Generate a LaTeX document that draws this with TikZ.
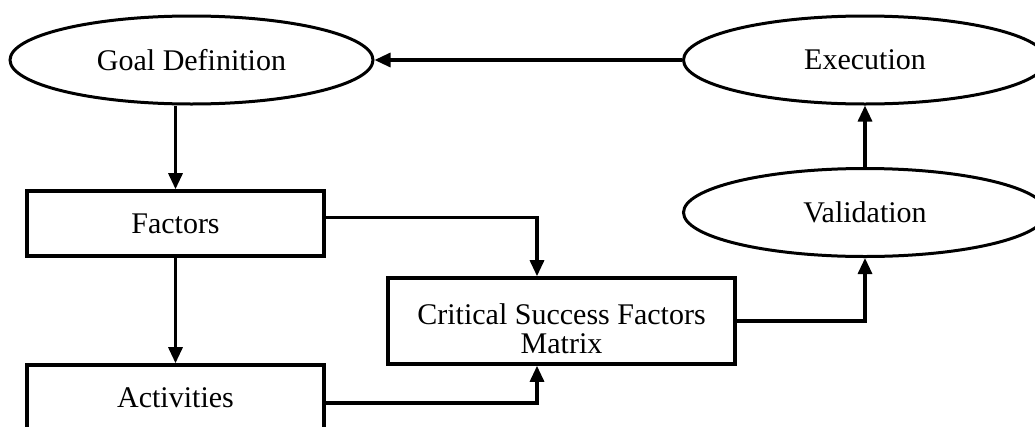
\documentclass[tikz,border=0pt]{standalone}
\usepackage{fontspec}
\setmainfont{Liberation Serif}
\usetikzlibrary{shapes.geometric,arrows.meta}

\tikzset{
  stage/.style={ellipse, draw, line width=3pt, minimum width=363pt,
    minimum height=88pt, inner sep=0pt},
  stepbox/.style={rectangle, draw, line width=3.6pt, inner sep=0pt,
    align=center},
  link/.style={line width=3.2pt,
    -{Triangle[length=16pt,width=14pt]}},
  every node/.style={font=\fontsize{30}{34}\selectfont}
}

\begin{document}
\begin{tikzpicture}[x=1pt, y=-1pt]
  \useasboundingbox (0,0) rectangle (1035,426);
  \clip (0,0) rectangle (1035,426);

  % process stages
  \node[stage] (goal) at (191.5,60) {Goal Definition};
  \node[stage] (exec) at (865,60) {Execution};
  \node[stage] (valid) at (865,212.5) {Validation};

  % working steps
  \node[stepbox, minimum width=297pt, minimum height=65pt] (factors) at (175.5,223.5) {Factors};
  \node[stepbox, minimum width=297pt, minimum height=65pt] (acts) at (175.5,397.5) {Activities};
  \node[stepbox, minimum width=347pt, minimum height=86pt] (csf) at (561.5,321)
    {\rule{0pt}{36pt}Critical Success Factors\\[-5pt]Matrix};

  % connectors
  \draw[link] (exec.west) -- (goal.east);
  \draw[link] (factors.north |- goal.south) -- (factors.north);
  \draw[link] (factors.south) -- (acts.north);
  \draw[link] ([yshift=6pt]factors.east) -| ([xshift=-24.5pt]csf.north);
  \draw[link] ([yshift=-5.5pt]acts.east) -| ([xshift=-24.5pt]csf.south);
  \draw[link] (csf.east) -| (valid.south);
  \draw[link] (valid.north) -- (exec.south);
\end{tikzpicture}
\end{document}
